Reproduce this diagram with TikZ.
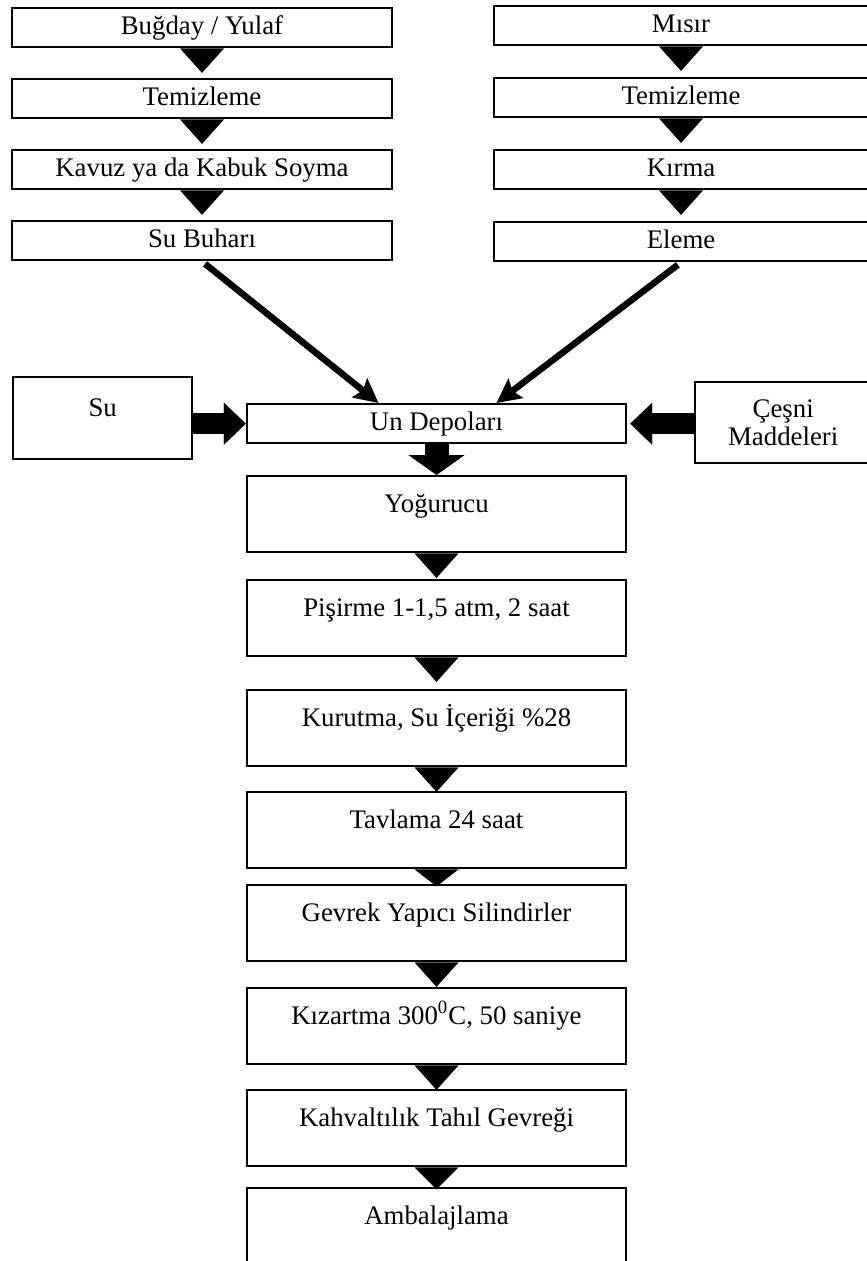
\documentclass[tikz,border=0pt]{standalone}
\usepackage{fontspec}
\setmainfont{Liberation Serif}
\usetikzlibrary{positioning, arrows.meta, calc}

\begin{document}
\begin{tikzpicture}[
      x=0.5pt, y=-0.5pt,
      node distance=14.8pt,
      font=\fontsize{13.4}{13.8}\selectfont,
      stepbox/.style={rectangle, draw=black, line width=1.2pt, fill=white, inner xsep=2pt, inner ysep=0pt, text height=13pt, text depth=6.5pt},
      tallbox/.style={stepbox, minimum width=189.5pt, text height=18pt, text depth=20pt},
      sidebox/.style={rectangle, draw=black, line width=1.2pt, fill=white, align=center},
      feed/.style={-{Stealth[length=12pt, width=12pt, inset=2pt]}, line width=3.25pt, shorten <=2pt},
      blockarr/.style={-{Triangle[length=11pt, width=21pt, line width=0.1pt]}, line width=10.5pt}
  ]
  \useasboundingbox (0,0) rectangle (866,1261);

  % Left column
  \node[stepbox, minimum width=190pt, anchor=north] (bugday) at (202,7) {Buğday / Yulaf};
  \node[stepbox, minimum width=190pt, below=of bugday] (temiz1) {Temizleme};
  \node[stepbox, minimum width=190pt, below=of temiz1] (kavuz) {Kavuz ya da Kabuk Soyma};
  \node[stepbox, minimum width=190pt, below=of kavuz] (subuhari) {Su Buharı};

  % Right column
  \node[stepbox, minimum width=187pt, anchor=north] (misir) at (681,5) {Mısır};
  \node[stepbox, minimum width=187pt, below=15.3pt of misir] (temiz2) {Temizleme};
  \node[stepbox, minimum width=187pt, below=15.3pt of temiz2] (kirma) {Kırma};
  \node[stepbox, minimum width=187pt, below=15.3pt of kirma] (eleme) {Eleme};

  % Main column
  \node[stepbox, minimum width=189.5pt, anchor=north] (undepo) at (436.5,403) {Un Depoları};
  \node[tallbox, below=15.3pt of undepo] (yogurucu) {Yoğurucu};
  \node[tallbox, below=12.8pt of yogurucu] (pisirme) {Pişirme 1-1,5 atm, 2 saat};
  \node[tallbox, below=15.8pt of pisirme] (kurutma) {Kurutma, Su İçeriği \%28};
  \node[tallbox, below=11.8pt of kurutma] (tavlama) {Tavlama 24 saat};
  \node[tallbox, below=7.3pt of tavlama] (gevrek) {Gevrek Yapıcı Silindirler};
  \node[tallbox, below=12.3pt of gevrek] (kizartma) {Kızartma 300\textsuperscript{0}C, 50 saniye};
  \node[tallbox, below=11.8pt of kizartma] (kahvalti) {Kahvaltılık Tahıl Gevreği};
  \node[tallbox, below=9.8pt of kahvalti] (ambalaj) {Ambalajlama};

  % Side inputs
  \node[sidebox, minimum width=89.5pt, minimum height=41pt, inner ysep=0pt, text height=19.5pt, text depth=21.5pt, anchor=north west] (subox) at (12,376) {Su};
  \node[sidebox, minimum width=88pt, minimum height=40.5pt, anchor=north west] (cesni) at (694,381) {Çeşni\\Maddeleri};

  % Arrows
  \foreach \a/\b/\h in {bugday/temiz1/12.25, temiz1/kavuz/12.25, kavuz/subuhari/12.25, misir/temiz2/12.25, temiz2/kirma/12.25, kirma/eleme/12.25, yogurucu/pisirme/12.25, pisirme/kurutma/12.25, kurutma/tavlama/12.25, tavlama/gevrek/8.5, gevrek/kizartma/12.25, kizartma/kahvalti/12.25, kahvalti/ambalaj/11}
    \fill (\a.south) ++(-11pt,0) -- ++(22pt,0) -- ($(\a.south)!\h pt!(\b.north)$) -- cycle;

  \draw[feed] (subuhari.south) -- ([xshift=-29pt]undepo.north);
  \draw[feed] (eleme.south) -- ([xshift=30pt]undepo.north);
  \draw[blockarr] (subox.east |- undepo.west) -- (undepo.west);
  \draw[blockarr] (cesni.west |- undepo.east) -- ([xshift=1.5pt]undepo.east);
  \draw[-{Triangle[length=10pt, width=28pt, line width=0.1pt]}, line width=12pt] (undepo.south) -- (yogurucu.north);

  \end{tikzpicture}
\end{document}
